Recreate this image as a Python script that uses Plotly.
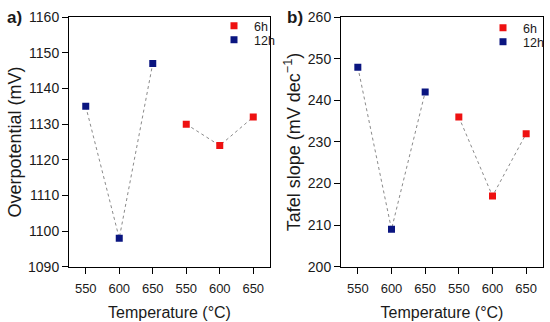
import plotly.graph_objects as go

temps = [550, 600, 650]
op_12h = [1135, 1098, 1147]
op_6h = [1130, 1124, 1132]
tafel_12h = [248, 209, 242]
tafel_6h = [236, 217, 232]
tick_labels = [str(t) for t in temps] * 2

x12 = list(range(len(temps)))
x6 = [i + len(temps) for i in range(len(temps))]

RED = "#ee1111"
NAVY = "#0a1580"
FONT = "Liberation Sans, Arial, sans-serif"
TXT = "#1a1a1a"

W, H = 550, 322


def px(x):
    return x / W


def py(y):
    # target pixel row -> paper fraction (compensates the slight vertical
    # squeeze observed in the captured picture)
    ys = (y - 6.7) / 0.956
    return 1 - ys / H


fig = go.Figure()


def add_panel(xa, ya, v12, v6, leg6, leg12):
    for xs, vs in ((x12, v12), (x6, v6)):
        fig.add_trace(go.Scatter(x=xs, y=vs, mode="lines", xaxis=xa, yaxis=ya,
                                 line=dict(color="#8a8a8a", width=1, dash="dot"),
                                 showlegend=False, hoverinfo="skip"))
    fig.add_trace(go.Scatter(x=x6, y=v6, mode="markers", name="6h", xaxis=xa, yaxis=ya,
                             marker=dict(symbol="square", size=7, color=RED),
                             legend=leg6))
    fig.add_trace(go.Scatter(x=x12, y=v12, mode="markers", name="12h", xaxis=xa, yaxis=ya,
                             marker=dict(symbol="square", size=7, color=NAVY),
                             legend=leg12))


add_panel("x", "y", op_12h, op_6h, "legend", "legend2")
add_panel("x2", "y2", tafel_12h, tafel_6h, "legend3", "legend4")

ytop, ybot = 16, 267
yd = [py(ybot), py(ytop)]

axis_common = dict(showline=True, linecolor="black", linewidth=1, mirror=True,
                   ticks="outside", ticklen=6, tickcolor="black", showgrid=False,
                   zeroline=False)
xtick = dict(size=13, color=TXT)
ytick = dict(size=14, color=TXT)


def leg(xc, yc):
    return dict(x=px(xc - 20), y=py(yc), xanchor="left", yanchor="middle",
                bgcolor="rgba(0,0,0,0)", font=dict(size=12.5, color=TXT),
                itemwidth=30, borderwidth=0)


fig.update_layout(
    width=W, height=H, margin=dict(l=0, r=0, t=0, b=0),
    paper_bgcolor="white", plot_bgcolor="white",
    font=dict(family=FONT, color=TXT),
    xaxis=dict(domain=[px(69), px(270)], range=[-0.5, 5.5], tickvals=x12 + x6,
               ticktext=tick_labels, anchor="y", tickfont=xtick, ticklabelstandoff=4,
               title=dict(text="Temperature (°C)", font=dict(size=16), standoff=11),
               **axis_common),
    yaxis=dict(domain=yd, range=[1090, 1160], dtick=10, anchor="x", tickfont=ytick,
               title=dict(text="Overpotential (mV)", font=dict(size=18), standoff=1),
               **axis_common),
    xaxis2=dict(domain=[px(341), px(543)], range=[-0.5, 5.5], tickvals=x12 + x6,
                ticktext=tick_labels, anchor="y2", tickfont=xtick, ticklabelstandoff=4,
                title=dict(text="Temperature (°C)", font=dict(size=16), standoff=11),
                **axis_common),
    yaxis2=dict(domain=yd, range=[200, 260], dtick=10, anchor="x2", tickfont=ytick,
                title=dict(text="Tafel slope (mV dec<sup>−1</sup>)", font=dict(size=18), standoff=2),
                **axis_common),
    legend=leg(234, 25),
    legend2=leg(234, 39),
    legend3=leg(503, 27),
    legend4=leg(503, 41),
    annotations=[
        dict(text="<b>a)</b>", x=px(5), y=py(16), xref="paper", yref="paper",
             xanchor="left", yanchor="middle", showarrow=False, font=dict(size=17)),
        dict(text="<b>b)</b>", x=px(285), y=py(16), xref="paper", yref="paper",
             xanchor="left", yanchor="middle", showarrow=False, font=dict(size=17)),
    ],
)

fig.write_html("out.html", config={"displayModeBar": False},
               post_script="document.body.style.margin='0';document.body.style.overflow='hidden';")
